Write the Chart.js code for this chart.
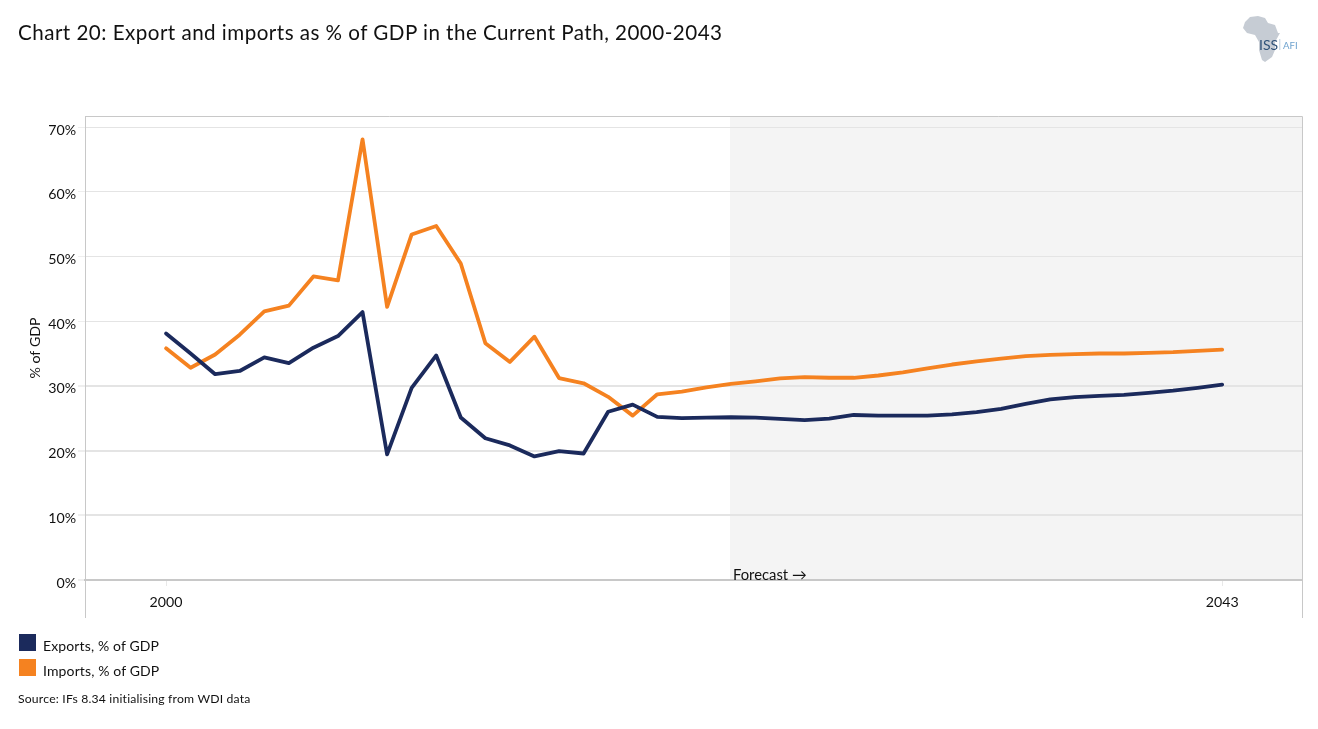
<!DOCTYPE html>
<html>
<head>
<meta charset="utf-8">
<title>Chart 20</title>
<script src="https://cdn.jsdelivr.net/npm/chart.js@4"></script>
<style>
    body { margin: 0; background: #fff; font-family: Lato, sans-serif; color: #111; }
    #wrap { position: relative; width: 1318px; height: 729px; overflow: hidden; }
    #chart { position: absolute; left: 0; top: 0; }
    .txt { position: absolute; white-space: nowrap; }
    #title { left: 18px; top: 19px; font-size: 20.6px; letter-spacing: 0.47px; line-height: 26px; }
    #source { left: 18px; top: 691px; font-size: 12.2px; letter-spacing: 0.19px; line-height: 16px; }
    .swatch { position: absolute; left: 19px; width: 17px; height: 17px; }
    .legendText { left: 43px; font-size: 14px; letter-spacing: 0.13px; line-height: 18px; }
    #logo { position: absolute; left: 1240px; top: 12px; }
</style>
</head>
<body>
<div id="wrap">
    <canvas id="chart" width="1318" height="729"></canvas>
    <div class="txt" id="title">Chart 20: Export and imports as % of GDP in the Current Path, 2000-2043</div>
    <div id="legend"></div>
    <div class="txt" id="source">Source: IFs 8.34 initialising from WDI data</div>
    <svg id="logo" width="62" height="54" viewBox="1240 12 62 54">
        <path fill="#c6ccd4" d="M1250 17 L1258 16 L1265 18 L1268 23 L1275 25 L1278 33 L1280 33 L1275 42 L1275 50 L1272 57 L1265 62 L1262 60 L1259 50 L1259 42 L1255 35 L1247 33 L1243 28 L1245 22 Z"/>
        <text x="1259" y="50" font-family="Lato, sans-serif" font-size="14" fill="#2f5278">ISS</text>
        <text x="1283" y="49" font-family="Lato, sans-serif" font-size="9.6" fill="#6fa3cf">AFI</text>
        <rect x="1279.5" y="39" width="0.7" height="11" fill="#9bb8d0"/>
    </svg>
</div>
<script>
// Chart data
const years = [2000, 2001, 2002, 2003, 2004, 2005, 2006, 2007, 2008, 2009, 2010,
    2011, 2012, 2013, 2014, 2015, 2016, 2017, 2018, 2019, 2020, 2021,
    2022, 2023, 2024, 2025, 2026, 2027, 2028, 2029, 2030, 2031, 2032,
    2033, 2034, 2035, 2036, 2037, 2038, 2039, 2040, 2041, 2042, 2043];
const exportsPct = [38.1, 35.0, 31.8, 32.3, 34.4, 33.5, 35.9, 37.7, 41.4, 19.4, 29.7,
    34.7, 25.1, 21.9, 20.8, 19.1, 19.9, 19.55, 26.0, 27.1, 25.2, 25.0,
    25.1, 25.15, 25.1, 24.9, 24.7, 24.95, 25.5, 25.4, 25.4, 25.4, 25.6,
    25.95, 26.45, 27.2, 27.9, 28.25, 28.45, 28.6, 28.9, 29.25, 29.7, 30.2];
const importsPct = [35.8, 32.8, 34.85, 37.9, 41.5, 42.4, 46.9, 46.3, 68.1, 42.2, 53.4,
    54.7, 48.9, 36.6, 33.7, 37.6, 31.2, 30.4, 28.3, 25.4, 28.7, 29.1,
    29.75, 30.3, 30.7, 31.15, 31.35, 31.25, 31.25, 31.6, 32.1, 32.7, 33.3,
    33.8, 34.2, 34.6, 34.8, 34.9, 35.0, 35.0, 35.1, 35.2, 35.4, 35.6];
const xTickYears = [2000, 2043];
const forecastStart = 2022.96;
const seriesNames = ['Exports, % of GDP', 'Imports, % of GDP'];
const seriesColors = ['#1b2a5c', '#f58220'];

const axisColor = '#c8c8c8';
const font = { family: 'Lato, sans-serif', size: 14.2 };

function toPoints(values) {
    return values.map((v, i) => ({ x: years[i], y: v }));
}

// Forecast band, frame and label
const frame = {
    id: 'frame',
    beforeDraw(chart) {
        const { ctx, chartArea: a, scales } = chart;
        ctx.save();
        ctx.fillStyle = '#f4f4f4';
        const left = scales.x.getPixelForValue(forecastStart);
        ctx.fillRect(left, a.top, a.right - left, a.bottom - a.top);
        ctx.restore();
    },
    afterDraw(chart) {
        const { ctx, chartArea: a, scales } = chart;
        ctx.save();
        ctx.strokeStyle = axisColor;
        ctx.lineWidth = 1;
        ctx.beginPath();
        ctx.moveTo(85.5, 618);
        ctx.lineTo(85.5, a.top + 0.5);
        ctx.lineTo(a.right + 0.5, a.top + 0.5);
        ctx.lineTo(a.right + 0.5, 618);
        ctx.stroke();
        ctx.fillStyle = '#111';
        ctx.font = '14.8px Lato, sans-serif';
        ctx.textBaseline = 'middle';
        ctx.fillText('Forecast \u2192', scales.x.getPixelForValue(forecastStart) + 3, 575);
        ctx.restore();
    }
};

new Chart(document.getElementById('chart'), {
    type: 'line',
    data: {
        datasets: [
            { label: seriesNames[0], data: toPoints(exportsPct), borderColor: seriesColors[0], order: 1 },
            { label: seriesNames[1], data: toPoints(importsPct), borderColor: seriesColors[1], order: 2 }
        ]
    },
    options: {
        responsive: false,
        animation: false,
        layout: { padding: { left: 0, right: 16, top: 116, bottom: 0 } },
        elements: {
            point: { radius: 0 },
            line: { borderWidth: 3.8, tension: 0, borderCapStyle: 'round', borderJoinStyle: 'round' }
        },
        plugins: {
            legend: { display: false },
            tooltip: { enabled: false }
        },
        scales: {
            x: {
                type: 'linear',
                min: 1996.7,
                max: 2046.25,
                afterBuildTicks(scale) { scale.ticks = xTickYears.map(v => ({ value: v })); },
                afterFit(scale) { scale.height = 149; },
                grid: { drawOnChartArea: false, tickColor: '#e8e8e8', tickLength: 6 },
                border: { color: axisColor, width: 2 },
                ticks: {
                    color: '#111',
                    font: font,
                    padding: 8,
                    maxRotation: 0,
                    callback: v => String(v)
                }
            },
            y: {
                min: 0,
                max: 71.7,
                afterFit(scale) { scale.width = 85; },
                grid: {
                    color: '#e4e4e4',
                    tickColor: '#eeeeee',
                    tickLength: 7,
                    lineWidth: ctx => (ctx.tick && ctx.tick.value <= 30 ? 2 : 1)
                },
                border: { color: axisColor, width: 1 },
                title: {
                    display: true,
                    text: '% of GDP',
                    color: '#111',
                    font: font,
                    padding: { top: 27, bottom: 0 }
                },
                ticks: {
                    stepSize: 10,
                    includeBounds: false,
                    color: '#111',
                    font: font,
                    padding: 2,
                    labelOffset: 3,
                    callback: v => v + '%'
                }
            }
        }
    },
    plugins: [frame]
});

// Legend
const legend = document.getElementById('legend');
seriesNames.forEach((name, i) => {
    const top = 634 + i * 25;
    const box = document.createElement('div');
    box.className = 'swatch';
    box.style.top = top + 'px';
    box.style.background = seriesColors[i];
    legend.appendChild(box);
    const label = document.createElement('div');
    label.className = 'txt legendText';
    label.style.top = (top + 3) + 'px';
    label.textContent = name;
    legend.appendChild(label);
});
</script>
</body>
</html>
